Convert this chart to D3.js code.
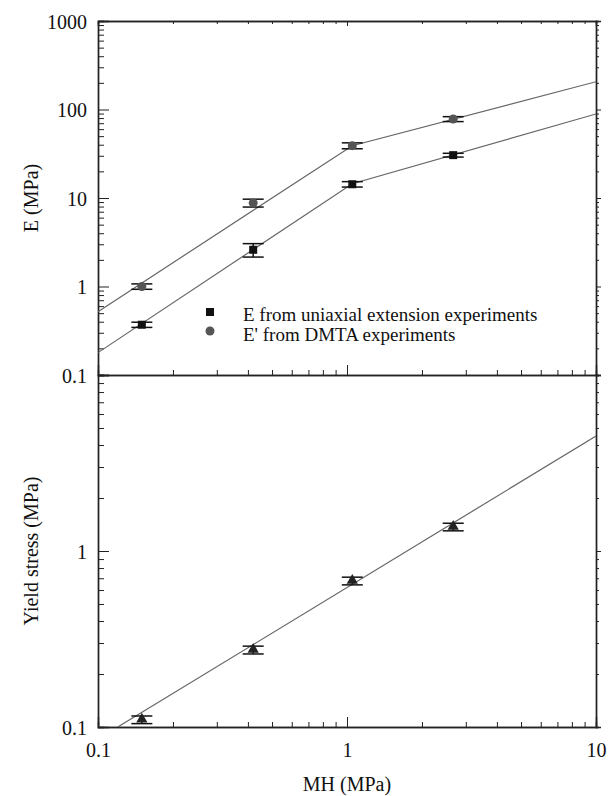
<!DOCTYPE html>
<html>
<head>
<meta charset="utf-8">
<script src="https://cdn.jsdelivr.net/npm/d3@7"></script>
<style>
  body { margin: 0; background: #fff; }
  svg text { font-family: "Liberation Serif", Tinos, "Times New Roman", "DejaVu Serif", serif; }
</style>
</head>
<body>
<svg id="chart" width="608" height="796"></svg>
<script>
// ---- data ----
var mh = [0.15, 0.42, 1.05, 2.67];

var eUniaxial = [0.37, 2.6, 14.3, 30.5];
var eUniaxialErr = [0.025, 0.45, 1.0, 1.5];

var eDmta = [1.0, 8.8, 39, 78];
var eDmtaErr = [0.07, 0.9, 3, 5];

var yieldStress = [0.11, 0.274, 0.676, 1.37];
var yieldErr = [0.0055, 0.014, 0.034, 0.068];

// power-law fit lines (MH, value)
var dmtaFitX = [0.1, 1.05, 10], dmtaFitY = [0.52, 39, 206];
var uniFitX = [0.1, 1.05, 10], uniFitY = [0.179, 14.5, 89];
var yieldFitX = [0.12, 10], yieldFitY = [0.1, 4.5];

var legendLabels = ["E from uniaxial extension experiments", "E' from DMTA experiments"];

var xMajor = [0.1, 1, 10];
var topMajor = [0.1, 1, 10, 100, 1000];
var botMajor = [0.1, 1, 10];
var botLabels = [0.1, 1];

var FONT = '"Liberation Serif", Tinos, "Times New Roman", "DejaVu Serif", serif';

function minorTicks(lo, hi) {
  var out = [];
  for (var d = lo; d < hi; d *= 10)
    for (var k = 2; k <= 9; k++) out.push(+(d * k).toPrecision(3));
  return out;
}

var svg = d3.select("#chart");
var L = 98, R = 596, T = 21, M = 375, B = 727;

var x = d3.scaleLog().domain([0.1, 10]).range([L, R]);
var yTop = d3.scaleLog().domain([0.1, 1000]).range([M, T]);
var yBot = d3.scaleLog().domain([0.1, 10]).range([B, M]);

var fmt = function(d) { return d >= 1 ? d3.format("d")(d) : String(d); };
var axisColor = "#222";

function styleAxis(g) {
  g.attr("font-family", null).attr("font-size", null);
  g.select(".domain").attr("stroke", axisColor).attr("stroke-width", 1.4);
  g.selectAll(".tick line").attr("stroke", axisColor).attr("stroke-width", 1);
  g.selectAll(".tick text").attr("fill", "#111").style("font-size", "20px")
    .style("font-family", FONT);
}

// ---- axes for a panel ----
function panelAxes(y, yMaj, yMin, yLab, top, bottom, showX) {
  // left
  svg.append("g").attr("transform", "translate(" + L + ",0)")
    .call(d3.axisLeft(y).tickValues(yMin).tickSize(-6).tickFormat(""))
    .call(styleAxis);
  svg.append("g").attr("transform", "translate(" + L + ",0)")
    .call(d3.axisLeft(y).tickValues(yMaj).tickSize(-11).tickPadding(11)
      .tickFormat(function(d) { return yLab.indexOf(d) >= 0 ? fmt(d) : ""; }))
    .call(styleAxis)
    .selectAll(".tick text").attr("dy", "0.35em");
  // right
  svg.append("g").attr("transform", "translate(" + R + ",0)")
    .call(d3.axisRight(y).tickValues(yMin).tickSize(3).tickFormat(""))
    .call(styleAxis);
  svg.append("g").attr("transform", "translate(" + R + ",0)")
    .call(d3.axisRight(y).tickValues(yMaj).tickSize(5).tickFormat(""))
    .call(styleAxis);
  // top edge
  if (top) {
    svg.append("g").attr("transform", "translate(0," + T + ")")
      .call(d3.axisTop(x).tickValues(minorTicks(0.1, 10)).tickSize(-3).tickFormat(""))
      .call(styleAxis);
    svg.append("g").attr("transform", "translate(0," + T + ")")
      .call(d3.axisTop(x).tickValues(xMajor).tickSize(-5).tickFormat(""))
      .call(styleAxis);
  }
  // bottom edge
  svg.append("g").attr("transform", "translate(0," + bottom + ")")
    .call(d3.axisBottom(x).tickValues(minorTicks(0.1, 10)).tickSize(-5).tickFormat(""))
    .call(styleAxis);
  svg.append("g").attr("transform", "translate(0," + bottom + ")")
    .call(d3.axisBottom(x).tickValues(xMajor).tickSize(-10).tickPadding(16)
      .tickFormat(showX ? fmt : ""))
    .call(styleAxis);
}

panelAxes(yTop, topMajor, minorTicks(0.1, 1000), topMajor, true, M, false);
panelAxes(yBot, botMajor, minorTicks(0.1, 10), botLabels, false, B, true);

// ---- clip paths ----
var defs = svg.append("defs");
defs.append("clipPath").attr("id", "clipTop").append("rect")
  .attr("x", L).attr("y", T).attr("width", R - L).attr("height", M - T);
defs.append("clipPath").attr("id", "clipBot").append("rect")
  .attr("x", L).attr("y", M).attr("width", R - L).attr("height", B - M);

function fitLine(xs, ys, y, clip) {
  var pts = xs.map(function(v, i) { return [v, ys[i]]; });
  svg.append("path")
    .attr("clip-path", "url(#" + clip + ")")
    .attr("d", d3.line().x(function(d) { return x(d[0]); }).y(function(d) { return y(d[1]); })(pts))
    .attr("fill", "none").attr("stroke", "#666").attr("stroke-width", 1.2);
}

fitLine(dmtaFitX, dmtaFitY, yTop, "clipTop");
fitLine(uniFitX, uniFitY, yTop, "clipTop");
fitLine(yieldFitX, yieldFitY, yBot, "clipBot");

// ---- error bars ----
function errorBars(vals, errs, y) {
  var g = svg.append("g").attr("stroke", "#111").attr("stroke-width", 1.5);
  vals.forEach(function(v, i) {
    var cx = x(mh[i]), y1 = y(v + errs[i]), y0 = y(v - errs[i]);
    g.append("line").attr("x1", cx).attr("x2", cx).attr("y1", y1).attr("y2", y0);
    g.append("line").attr("x1", cx - 10.5).attr("x2", cx + 10.5).attr("y1", y1).attr("y2", y1);
    g.append("line").attr("x1", cx - 10.5).attr("x2", cx + 10.5).attr("y1", y0).attr("y2", y0);
  });
}

errorBars(eDmta, eDmtaErr, yTop);
errorBars(eUniaxial, eUniaxialErr, yTop);
errorBars(yieldStress, yieldErr, yBot);

// ---- markers ----
svg.selectAll("circle.dmta").data(eDmta).enter().append("circle")
  .attr("class", "dmta")
  .attr("cx", function(d, i) { return x(mh[i]); })
  .attr("cy", function(d) { return yTop(d); })
  .attr("r", 4.5).attr("fill", "#555");

svg.selectAll("rect.uni").data(eUniaxial).enter().append("rect")
  .attr("class", "uni")
  .attr("x", function(d, i) { return x(mh[i]) - 4; })
  .attr("y", function(d) { return yTop(d) - 4; })
  .attr("width", 8).attr("height", 8).attr("fill", "#111");

var tri = d3.symbol().type(d3.symbolTriangle).size(55);
svg.selectAll("path.yield").data(yieldStress).enter().append("path")
  .attr("class", "yield")
  .attr("transform", function(d, i) { return "translate(" + x(mh[i]) + "," + (yBot(d) - 0.5) + ")"; })
  .attr("d", tri).attr("fill", "#222");

// ---- legend ----
var leg = svg.append("g");
leg.append("rect").attr("x", 206).attr("y", 308).attr("width", 8).attr("height", 8).attr("fill", "#111");
leg.append("circle").attr("cx", 210).attr("cy", 331).attr("r", 4.5).attr("fill", "#555");
leg.selectAll("text").data(legendLabels).enter().append("text")
  .attr("x", 243).attr("y", function(d, i) { return 321 + i * 19.5; })
  .style("font-size", "19px").style("font-family", FONT).attr("fill", "#111")
  .text(function(d) { return d; });

// ---- axis titles ----
svg.append("text").attr("transform", "translate(38," + ((T + M) / 2) + ")rotate(-90)")
  .attr("text-anchor", "middle").style("font-size", "20px").style("font-family", FONT).attr("fill", "#111")
  .text("E (MPa)");
svg.append("text").attr("transform", "translate(38," + ((M + B) / 2) + ")rotate(-90)")
  .attr("text-anchor", "middle").style("font-size", "20px").style("font-family", FONT).attr("fill", "#111")
  .text("Yield stress (MPa)");
svg.append("text").attr("x", (L + R) / 2).attr("y", 791)
  .attr("text-anchor", "middle").style("font-size", "20px").style("font-family", FONT).attr("fill", "#111")
  .text("MH (MPa)");
</script>
</body>
</html>
